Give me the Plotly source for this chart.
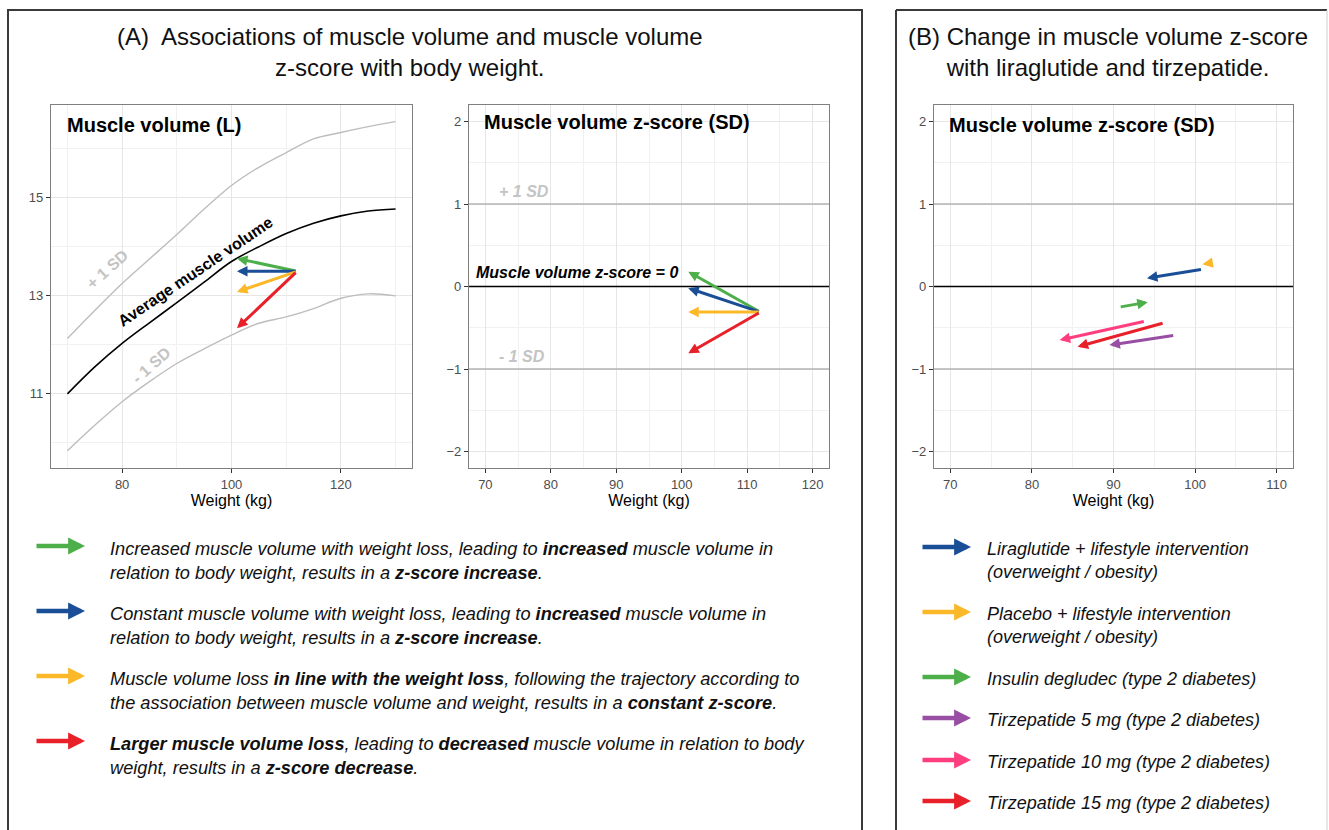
import plotly.graph_objects as go

W, H = 1329, 830

# ---------------- data ----------------
weight_grid = [70, 75, 80, 85, 90, 95, 100, 105, 110, 115, 120, 125, 130]
muscle_avg = [11.00, 11.55, 12.03, 12.45, 12.86, 13.28, 13.70, 14.00, 14.27, 14.48, 14.63, 14.73, 14.77]
muscle_plus1 = [12.13, 12.70, 13.25, 13.75, 14.25, 14.77, 15.25, 15.62, 15.92, 16.20, 16.33, 16.45, 16.55]
muscle_minus1 = [9.84, 10.36, 10.84, 11.25, 11.62, 11.92, 12.20, 12.44, 12.57, 12.74, 12.95, 13.04, 13.00]

scenario_names = ["increase", "constant", "in line", "larger loss"]
scenario_colors = ["#4DAF4A", "#1A4E96", "#FBB829", "#E8202A"]
scen_w_start = [112, 112, 112, 112]
scen_w_end = [101, 101, 101, 101]
scen_vol_start = [13.50, 13.50, 13.50, 13.50]
scen_vol_end = [13.76, 13.50, 13.08, 12.34]
scen_z_start = [-0.31, -0.31, -0.31, -0.31]
scen_z_end = [0.18, -0.02, -0.31, -0.81]

trial_names = [
    "Liraglutide + lifestyle intervention<br>(overweight / obesity)",
    "Placebo + lifestyle intervention<br>(overweight / obesity)",
    "Insulin degludec (type 2 diabetes)",
    "Tirzepatide 5 mg (type 2 diabetes)",
    "Tirzepatide 10 mg (type 2 diabetes)",
    "Tirzepatide 15 mg (type 2 diabetes)",
]
trial_colors = ["#1A4E96", "#FBB829", "#4DAF4A", "#984EA3", "#FF3E80", "#E8202A"]
trial_w_start = [100.9, 102.2, 90.7, 97.5, 93.9, 96.2]
trial_w_end = [94.1, 100.9, 94.2, 89.5, 83.4, 85.6]
trial_z_start = [0.21, 0.29, -0.25, -0.59, -0.42, -0.44]
trial_z_end = [0.10, 0.27, -0.19, -0.71, -0.65, -0.73]

scenario_text = [
    "<i>Increased muscle volume with weight loss, leading to <b>increased</b> muscle volume in<br>"
    "relation to body weight, results in a <b>z-score increase</b>.</i>",
    "<i>Constant muscle volume with weight loss, leading to <b>increased</b> muscle volume in<br>"
    "relation to body weight, results in a <b>z-score increase</b>.</i>",
    "<i>Muscle volume loss <b>in line with the weight loss</b>, following the trajectory according to<br>"
    "the association between muscle volume and weight, results in a <b>constant z-score</b>.</i>",
    "<i><b>Larger muscle volume loss</b>, leading to <b>decreased</b> muscle volume in relation to body<br>"
    "weight, results in a <b>z-score decrease</b>.</i>",
]

FONT = "Liberation Sans, Arial, sans-serif"


def px_x(p):
    return p / W


def px_y(p):
    return 1 - p / H


fig = go.Figure()

# ---------------- panel A1: muscle volume vs weight ----------------
for vals, col, wd in [(muscle_plus1, "#BDBDBD", 1.4), (muscle_minus1, "#BDBDBD", 1.4), (muscle_avg, "#000000", 1.6)]:
    fig.add_trace(go.Scatter(x=weight_grid, y=vals, mode="lines", line=dict(color=col, width=wd, shape="spline", smoothing=1.0),
                             xaxis="x", yaxis="y", showlegend=False, hoverinfo="skip"))

annotations = []
shapes = []


def arrow(xref, yref, x0, y0, x1, y1, color, width=3, size=0.7):
    annotations.append(dict(x=x1, y=y1, ax=x0, ay=y0, xref=xref, yref=yref, axref=xref, ayref=yref,
                            text="", showarrow=True, arrowhead=2, arrowsize=size, arrowwidth=width,
                            arrowcolor=color))


for i in range(len(scenario_names)):
    arrow("x", "y", scen_w_start[i], scen_vol_start[i], scen_w_end[i], scen_vol_end[i], scenario_colors[i])
    arrow("x2", "y2", scen_w_start[i], scen_z_start[i], scen_w_end[i], scen_z_end[i], scenario_colors[i])

for i in range(len(trial_names)):
    arrow("x3", "y3", trial_w_start[i], trial_z_start[i], trial_w_end[i], trial_z_end[i], trial_colors[i])

# in-plot labels, panel A1
annotations += [
    dict(x=93.4, y=13.5, xref="x", yref="y", text="<b>Average muscle volume</b>", textangle=-34,
         showarrow=False, font=dict(size=16, color="#000000", family=FONT)),
    dict(x=77.3, y=13.53, xref="x", yref="y", text="<b>+ 1 SD</b>", textangle=-42,
         showarrow=False, font=dict(size=16, color="#C4C4C4", family=FONT)),
    dict(x=85.3, y=11.57, xref="x", yref="y", text="<b>- 1 SD</b>", textangle=-42,
         showarrow=False, font=dict(size=16, color="#C4C4C4", family=FONT)),
]

# in-plot labels, panel A2
annotations += [
    dict(x=71.8, y=1.15, xref="x2", yref="y2", xanchor="left", text="<b><i>+ 1 SD</i></b>",
         showarrow=False, font=dict(size=16, color="#C4C4C4", family=FONT)),
    dict(x=71.8, y=-0.85, xref="x2", yref="y2", xanchor="left", text="<b><i>- 1 SD</i></b>",
         showarrow=False, font=dict(size=16, color="#C4C4C4", family=FONT)),
    dict(x=68.2, y=0.17, xref="x2", yref="y2", xanchor="left", text="<b><i>Muscle volume z-score = 0</i></b>",
         showarrow=False, font=dict(size=16, color="#000000", family=FONT)),
]

# panel titles inside plots
for ax, xd, yd, txt in [("x", 0.039, 0.945, "Muscle volume (L)"),
                        ("x2", 0.036, 0.953, "Muscle volume z-score (SD)"),
                        ("x3", 0.037, 0.945, "Muscle volume z-score (SD)")]:
    yax = ax.replace("x", "y")
    annotations.append(dict(x=xd, y=yd, xref=ax + " domain", yref=yax + " domain", xanchor="left", yanchor="middle",
                            text="<b>" + txt + "</b>", showarrow=False, font=dict(size=20, color="#000000", family=FONT)))

# reference lines in z-score panels
for xa, ya in [("x2", "y2"), ("x3", "y3")]:
    for yv, col, wd in [(1, "#B3B3B3", 1.3), (-1, "#B3B3B3", 1.3), (0, "#000000", 1.4)]:
        shapes.append(dict(type="line", xref=xa + " domain", yref=ya, x0=0, x1=1, y0=yv, y1=yv,
                           line=dict(color=col, width=wd), layer="above"))

# section titles
annotations += [
    dict(x=px_x(410), y=px_y(52), xref="paper", yref="paper", xanchor="center", yanchor="middle",
         text="(A)  Associations of muscle volume and muscle volume<br>z-score with body weight.",
         showarrow=False, align="center", font=dict(size=24, color="#111111", family=FONT)),
    dict(x=px_x(1108), y=px_y(52), xref="paper", yref="paper", xanchor="center", yanchor="middle",
         text="(B) Change in muscle volume z-score<br>with liraglutide and tirzepatide.",
         showarrow=False, align="center", font=dict(size=24, color="#111111", family=FONT)),
]

# outer boxes
shapes += [
    dict(type="rect", xref="paper", yref="paper", x0=px_x(8), x1=px_x(862), y0=-0.05, y1=px_y(10),
         line=dict(color="#3A3A3A", width=2)),
    dict(type="line", xref="paper", yref="paper", x0=px_x(896), x1=px_x(1327), y0=px_y(10), y1=px_y(10),
         line=dict(color="#3A3A3A", width=2)),
    dict(type="line", xref="paper", yref="paper", x0=px_x(896), x1=px_x(896), y0=-0.05, y1=px_y(10),
         line=dict(color="#3A3A3A", width=2)),
    dict(type="line", xref="paper", yref="paper", x0=px_x(1327), x1=px_x(1327), y0=-0.05, y1=px_y(10),
         line=dict(color="#CFCFCF", width=1)),
]

# legend: scenarios
scen_rows = [546, 611, 676, 741]
for i, row in enumerate(scen_rows):
    annotations.append(dict(x=px_x(85), y=px_y(row), ax=-50, ay=0, xref="paper", yref="paper",
                            text="", showarrow=True, arrowhead=2, arrowsize=0.75, arrowwidth=4.5,
                            arrowcolor=scenario_colors[i]))
    annotations.append(dict(x=px_x(108), y=px_y(row - 9), xref="paper", yref="paper", xanchor="left", yanchor="top",
                            text=scenario_text[i], showarrow=False, align="left",
                            font=dict(size=18.2, color="#111111", family=FONT)))

# legend: trials
trial_rows = [547, 612, 677, 718, 760, 801]
for i, row in enumerate(trial_rows):
    annotations.append(dict(x=px_x(971), y=px_y(row), ax=-50, ay=0, xref="paper", yref="paper",
                            text="", showarrow=True, arrowhead=2, arrowsize=0.75, arrowwidth=4.5,
                            arrowcolor=trial_colors[i]))
    annotations.append(dict(x=px_x(985), y=px_y(row - 10), xref="paper", yref="paper", xanchor="left", yanchor="top",
                            text="<i>" + trial_names[i] + "</i>", showarrow=False, align="left",
                            font=dict(size=18, color="#111111", family=FONT)))

# invisible anchors so panels A2 and B have data on their axes
fig.add_trace(go.Scatter(x=scen_w_start + scen_w_end, y=scen_z_start + scen_z_end, mode="markers",
                         marker=dict(opacity=0), xaxis="x2", yaxis="y2", showlegend=False, hoverinfo="skip"))
fig.add_trace(go.Scatter(x=trial_w_start + trial_w_end, y=trial_z_start + trial_z_end, mode="markers",
                         marker=dict(opacity=0), xaxis="x3", yaxis="y3", showlegend=False, hoverinfo="skip"))


def axis_style(**kw):
    base = dict(showline=True, mirror=True, linecolor="#7F7F7F", linewidth=1.3, ticks="outside", ticklen=4,
                tickcolor="#333333", tickwidth=1, showgrid=True, gridcolor="#E6E6E6", gridwidth=1.2,
                zeroline=False, tickfont=dict(size=13, color="#4D4D4D", family=FONT))
    base.update(kw)
    return base


ytop, ybot = px_y(105), px_y(468)
xtitle = dict(text="Weight (kg)", font=dict(size=16, color="#000000", family=FONT), standoff=0)
minor_grid = dict(showgrid=True, gridcolor="#F1F1F1", gridwidth=0.8)

fig.update_layout(
    width=W, height=H, margin=dict(l=0, r=0, t=0, b=0), plot_bgcolor="white", paper_bgcolor="white",
    font=dict(family=FONT),
    xaxis=axis_style(domain=[px_x(51), px_x(412)], anchor="y", range=[67, 133], tick0=0, dtick=20,
                     minor=dict(dtick=10, **minor_grid), title=xtitle),
    yaxis=axis_style(domain=[ybot, ytop], anchor="x", range=[9.49, 16.89], tick0=11, dtick=2,
                     minor=dict(dtick=1, tick0=10, **minor_grid)),
    xaxis2=axis_style(domain=[px_x(469), px_x(829)], anchor="y2", range=[67.5, 122.5], tick0=0, dtick=10,
                      minor=dict(dtick=5, **minor_grid), title=xtitle),
    yaxis2=axis_style(domain=[ybot, ytop], anchor="x2", range=[-2.2, 2.2], tick0=0, dtick=1,
                      minor=dict(dtick=0.5, **minor_grid)),
    xaxis3=axis_style(domain=[px_x(934), px_x(1293)], anchor="y3", range=[68, 112], tick0=0, dtick=10,
                      minor=dict(dtick=5, **minor_grid), title=xtitle),
    yaxis3=axis_style(domain=[ybot, ytop], anchor="x3", range=[-2.2, 2.2], tick0=0, dtick=1,
                      minor=dict(dtick=0.5, **minor_grid)),
    annotations=annotations,
    shapes=shapes,
)

fig.write_html("out.html")
